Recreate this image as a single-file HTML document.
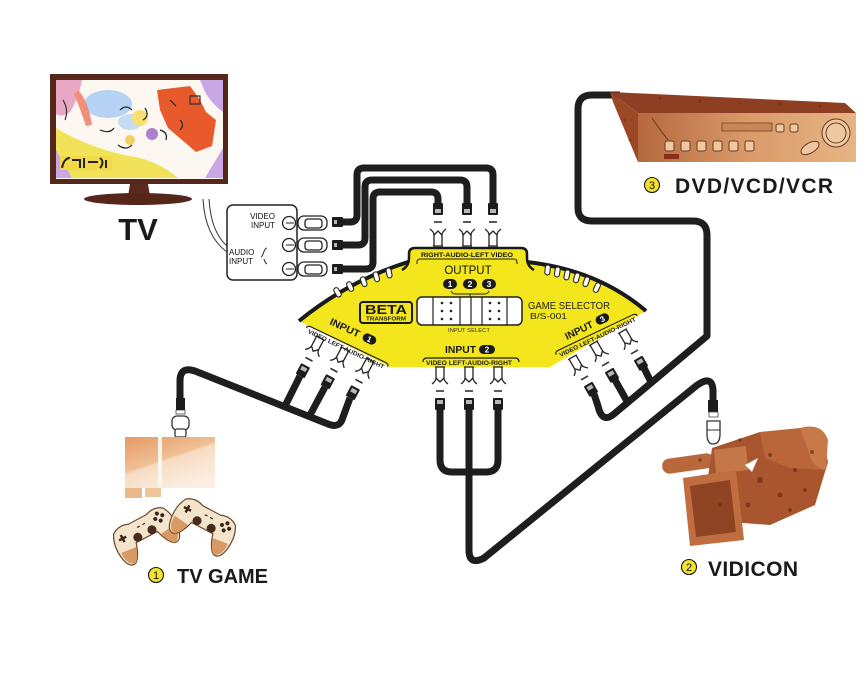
<!DOCTYPE html>
<html><head><meta charset="utf-8"><style>
html,body{margin:0;padding:0;background:#fff;}
svg{display:block;}
text{font-family:"Liberation Sans",Arial,sans-serif;}
.c{fill:none;stroke:#1e1e1e;stroke-width:7;stroke-linejoin:round;stroke-linecap:butt;}
</style></head><body>
<svg width="866" height="680" viewBox="0 0 866 680" xmlns="http://www.w3.org/2000/svg">
<defs>
<g id="st">
  <path d="M-4,-9 V2 Q-4,5 -8,8 M4,-9 V2 Q4,5 8,8 M-4,2 L0,6 L4,2 M-5,-9 H5" fill="none" stroke="#222" stroke-width="1.3"/>
  <line x1="-4" y1="15" x2="4" y2="15" stroke="#333" stroke-width="1.6"/>
  <rect x="-5" y="22" width="10" height="12" rx="1" fill="#1c1c1c"/>
  <rect x="-3" y="24" width="6" height="4" fill="#b8b8b8"/>
</g>
<linearGradient id="dvdf" x1="0" y1="0" x2="1" y2="0">
  <stop offset="0" stop-color="#b5683e"/><stop offset="0.5" stop-color="#d99a68"/><stop offset="1" stop-color="#e6b585"/>
</linearGradient>
<linearGradient id="cons" x1="0" y1="0" x2="0.6" y2="1">
  <stop offset="0" stop-color="#e59a66"/><stop offset="0.5" stop-color="#efbf94"/><stop offset="0.55" stop-color="#f6dcc0"/><stop offset="1" stop-color="#fbeee0"/>
</linearGradient>
<g id="pad">
  <path d="M-28,-10 Q-20,-16 -10,-12 H10 Q20,-16 28,-10 Q34,0 32,14 Q30,28 22,26 Q16,22 12,8 H-12 Q-16,22 -22,26 Q-30,28 -32,14 Q-34,0 -28,-10 Z" fill="#f4e4cc" stroke="#6b4a30" stroke-width="1.2"/>
  <path d="M-30,10 Q-31,24 -22,26 Q-17,22 -14,12 Z M30,10 Q31,24 22,26 Q17,22 14,12 Z" fill="#d89a62"/>
  <path d="M-22,-6 v8 M-26,-2 h8" stroke="#3a2418" stroke-width="2.5"/>
  <circle cx="20" cy="-8" r="2" fill="#3a2418"/><circle cx="20" cy="0" r="2" fill="#3a2418"/>
  <circle cx="16" cy="-4" r="2" fill="#3a2418"/><circle cx="24" cy="-4" r="2" fill="#3a2418"/>
  <circle cx="-8" cy="4" r="4.5" fill="#4a2a1a"/><circle cx="8" cy="4" r="4.5" fill="#4a2a1a"/>
  <path d="M-4,-5 h3 M2,-5 h3" stroke="#3a2418" stroke-width="1.2"/>
</g>
</defs>

<rect width="866" height="680" fill="#fff"/>

<!-- ============ TV ============ -->
<rect x="50" y="74" width="178" height="110" fill="#55261a"/>
<rect x="56" y="80" width="167" height="99" fill="#fcf7f0"/>
<path d="M56,80 H82 Q78,100 70,112 Q62,118 56,114 Z" fill="#e9a7c4"/>
<ellipse cx="108" cy="104" rx="24" ry="14" fill="#b6d2f2"/>
<ellipse cx="130" cy="122" rx="12" ry="8" fill="#c4dcf4"/>
<path d="M78,90 Q88,100 92,125 L86,126 Q80,108 74,94 Z" fill="#f0907a"/>
<path d="M157,90 L190,86 L200,100 L206,112 L216,120 L212,146 L196,152 L182,140 L168,128 L160,110 Z" fill="#e85a2b"/>
<path d="M200,80 H223 V112 Q212,104 205,92 Z" fill="#c9a6e4"/>
<path d="M205,178 L223,148 V178 Z" fill="#c9a6e4"/>
<path d="M56,148 L72,178 H56 Z" fill="#c9a6e4"/>
<path d="M56,128 Q92,150 140,158 Q162,164 178,178 H72 L56,150 Z" fill="#f2e25a"/>
<rect x="60" y="156" width="52" height="14" fill="#f3d84a"/>
<path d="M62,168 Q64,158 70,158 M72,160 h8 v8 M84,158 v10 M88,162 h10 M100,158 q5,4 0,10 M106,160 v8" stroke="#222" stroke-width="2" fill="none"/>
<circle cx="140" cy="118" r="8" fill="#f5e070"/>
<circle cx="152" cy="134" r="6" fill="#b080d0"/>
<circle cx="130" cy="140" r="5" fill="#f5d060"/>
<path d="M120,110 q6,-6 12,0 M145,108 q5,8 -2,12 M160,130 q8,2 6,10 M100,130 q10,4 14,-2 M170,100 l6,6 M180,120 q5,5 0,10 M118,145 q8,6 14,0" stroke="#222" stroke-width="1.2" fill="none"/>
<path d="M63,100 q6,10 2,20 M190,96 h10 v8 h-10 z" stroke="#333" stroke-width="1.2" fill="none"/>
<path d="M130,184 h18 l2,12 h-22 z" fill="#5a2a1c"/>
<ellipse cx="138" cy="199" rx="54" ry="6" fill="#55261a"/>
<text x="138" y="240" font-size="31" font-weight="bold" text-anchor="middle" fill="#1a1a1a">TV</text>

<!-- TV input panel -->
<path d="M203,199 Q205,236 227,252 M209,199 Q211,232 227,246" stroke="#333" stroke-width="1" fill="none"/>
<rect x="227" y="205" width="70" height="75" rx="6" fill="#fff" stroke="#222" stroke-width="1.5"/>
<text x="275" y="219" font-size="8" text-anchor="end" fill="#111">VIDEO</text>
<text x="275" y="228" font-size="8" text-anchor="end" fill="#111">INPUT</text>
<text x="229" y="255" font-size="8" fill="#111">AUDIO</text>
<text x="229" y="264" font-size="8" fill="#111">INPUT</text>
<path d="M263,254 q2,-6 4,-6 M263,254 q-1,3 -2,3 M264,259 q1,4 3,5" stroke="#222" stroke-width="1" fill="none"/>
<g fill="#fff" stroke="#222" stroke-width="1.3">
  <rect x="298" y="216" width="29" height="14" rx="6"/><rect x="305" y="219" width="17" height="9" rx="3"/><circle cx="289" cy="223" r="6.5"/>
  <rect x="298" y="238" width="29" height="14" rx="6"/><rect x="305" y="241" width="17" height="9" rx="3"/><circle cx="289" cy="245" r="6.5"/>
  <rect x="298" y="262" width="29" height="14" rx="6"/><rect x="305" y="265" width="17" height="9" rx="3"/><circle cx="289" cy="269" r="6.5"/>
</g>
<path d="M286,223 h8 M286,245 h8 M286,269 h8" stroke="#222" stroke-width="1"/>

<!-- ============ Cables ============ -->
<path class="c" d="M343,222 H350 Q357,222 357,215 V175 Q357,168 364,168 H486 Q493,168 493,175 V203"/>
<path class="c" d="M343,245 H358 Q365,245 365,238 V187 Q365,180 372,180 H460 Q467,180 467,187 V203"/>
<path class="c" d="M343,269 H366 Q373,269 373,262 V199 Q373,192 380,192 H431 Q438,192 438,199 V203"/>
<g fill="#1c1c1c"><rect x="332" y="217" width="11" height="10" rx="1"/><rect x="332" y="240" width="11" height="10" rx="1"/><rect x="332" y="264" width="11" height="10" rx="1"/></g>
<g fill="#b8b8b8"><rect x="334" y="220" width="3" height="4"/><rect x="334" y="243" width="3" height="4"/><rect x="334" y="267" width="3" height="4"/></g>

<!-- DVD cable + input 3 -->
<path class="c" d="M620,95 H592 Q578,95 578,109 V208 Q578,221 592,221 H693 Q707,221 707,235 V336 L614,414 Q602,424 598,406 L594,394"/>
<path class="c" d="M615,380 L628,403"/>
<path class="c" d="M644,368 L652,384"/>

<!-- Input 1 -->
<path class="c" d="M180,399 V381 Q180,366 195,371 L328,424 Q340,429 343,417 L350,398"/>
<path class="c" d="M300,376 L285,406"/>
<path class="c" d="M325,387 L309,417"/>

<!-- Input 2 / camera -->
<path class="c" d="M440,410 V460 Q440,472 452,472 H486 Q498,472 498,460 V410"/>
<path class="c" d="M469,410 V550 Q469,566 484,558 L696,386 Q712,374 713,390 V401"/>

<!-- ============ Yellow selector ============ -->
<path d="M299,321 Q348,281 408,262 L408,252 Q408,247 414,247 H522 Q528,247 528,252 L528,262 Q598,270 646,311 L550,367 H390 Z" fill="#f4e61c"/>
<path d="M299,321 Q348,281 408,262" fill="none" stroke="#1a1a1a" stroke-width="4"/>
<path d="M527,262 Q598,270 646,311" fill="none" stroke="#1a1a1a" stroke-width="4"/>
<path d="M402,270 Q409,266 409,258 V254 Q409,248 415,248 H521 Q527,248 527,254 V258 Q527,266 534,270" fill="none" stroke="#1a1a1a" stroke-width="2.5"/>
<path d="M417,264 V262 Q417,259 421,259 H513 Q517,259 517,262 V264" fill="none" stroke="#1a1a1a" stroke-width="1"/>
<text x="467" y="257" font-size="6.3" font-weight="bold" text-anchor="middle" fill="#111" textLength="92" lengthAdjust="spacingAndGlyphs">RIGHT-AUDIO-LEFT VIDEO</text>
<text x="468" y="274" font-size="11.5" text-anchor="middle" fill="#111">OUTPUT</text>

<g fill="#fff" stroke="#222" stroke-width="1.1">
  <rect x="-2.5" y="0" width="5" height="10" rx="2.5" transform="translate(335,288) rotate(-30)"/>
  <rect x="-2.5" y="0" width="5" height="10" rx="2.5" transform="translate(348,282) rotate(-25)"/>
  <rect x="-2.5" y="0" width="5" height="10" rx="2.5" transform="translate(362,277) rotate(-20)"/>
  <rect x="-2.5" y="0" width="5" height="10" rx="2.5" transform="translate(375,272) rotate(-16)"/>
  <rect x="-2.5" y="0" width="5" height="10" rx="2.5" transform="translate(388,268) rotate(-12)"/>
  <rect x="-2.5" y="0" width="5" height="10" rx="2.5" transform="translate(548,265) rotate(5)"/>
  <rect x="-2.5" y="0" width="5" height="10" rx="2.5" transform="translate(558,267) rotate(8)"/>
  <rect x="-2.5" y="0" width="5" height="10" rx="2.5" transform="translate(568,270) rotate(12)"/>
  <rect x="-2.5" y="0" width="5" height="10" rx="2.5" transform="translate(578,273) rotate(16)"/>
  <rect x="-2.5" y="0" width="5" height="10" rx="2.5" transform="translate(588,277) rotate(20)"/>
  <rect x="-2.5" y="0" width="5" height="10" rx="2.5" transform="translate(599,283) rotate(25)"/>
</g>

<g fill="#1a1a1a"><rect x="443" y="279" width="14" height="10" rx="5"/><rect x="463" y="279" width="14" height="10" rx="5"/><rect x="482" y="279" width="14" height="10" rx="5"/></g>
<g font-size="8.5" font-weight="bold" fill="#fff" text-anchor="middle"><text x="450" y="287">1</text><text x="470" y="287">2</text><text x="489" y="287">3</text></g>
<path d="M451,291 Q452,294 456,294 H484 Q488,294 489,291 M470,294 v3" stroke="#222" stroke-width="1" fill="none"/>

<rect x="417" y="297" width="105" height="28" rx="5" fill="#fff" stroke="#222" stroke-width="1.5"/>
<g stroke="#222" stroke-width="1.2"><line x1="433" y1="297" x2="433" y2="325"/><line x1="460" y1="297" x2="460" y2="325"/><line x1="471" y1="297" x2="471" y2="325"/><line x1="482" y1="297" x2="482" y2="325"/><line x1="507" y1="297" x2="507" y2="325"/></g>
<g fill="#222">
  <circle cx="442" cy="303" r="1.3"/><circle cx="451" cy="303" r="1.3"/><circle cx="442" cy="311" r="1.3"/><circle cx="451" cy="311" r="1.3"/><circle cx="442" cy="319" r="1.3"/><circle cx="451" cy="319" r="1.3"/>
  <circle cx="490" cy="303" r="1.3"/><circle cx="499" cy="303" r="1.3"/><circle cx="490" cy="311" r="1.3"/><circle cx="499" cy="311" r="1.3"/><circle cx="490" cy="319" r="1.3"/><circle cx="499" cy="319" r="1.3"/>
</g>
<text x="469" y="332" font-size="5" text-anchor="middle" fill="#333" textLength="42" lengthAdjust="spacingAndGlyphs">INPUT SELECT</text>

<rect x="360" y="302" width="52" height="21" rx="3" fill="#f4e61c" stroke="#1a1a1a" stroke-width="2"/>
<text x="386" y="314" font-family="Liberation Serif,serif" font-size="13" font-weight="bold" text-anchor="middle" fill="#1a1a1a" textLength="42" lengthAdjust="spacingAndGlyphs">BETA</text>
<text x="386" y="320.5" font-size="5.8" font-weight="bold" text-anchor="middle" fill="#1a1a1a" textLength="40" lengthAdjust="spacingAndGlyphs">TRANSFORM</text>

<text x="528" y="309" font-size="10" fill="#222" textLength="82" lengthAdjust="spacingAndGlyphs">GAME SELECTOR</text>
<text x="530" y="319" font-size="8.5" fill="#222" textLength="37" lengthAdjust="spacingAndGlyphs">B/S-001</text>

<text x="445" y="353" font-size="10" font-weight="bold" fill="#1a1a1a" textLength="31" lengthAdjust="spacingAndGlyphs">INPUT</text>
<rect x="479" y="345" width="16" height="9" rx="4.5" fill="#1a1a1a"/>
<text x="487" y="352.5" font-size="8" font-weight="bold" fill="#fff" text-anchor="middle">2</text>
<path d="M423,362 Q423,358 427,358 H515 Q519,358 519,362" fill="none" stroke="#1a1a1a" stroke-width="1.2"/>
<text x="469" y="365" font-size="6" font-weight="bold" text-anchor="middle" fill="#1a1a1a" textLength="86" lengthAdjust="spacingAndGlyphs">VIDEO LEFT-AUDIO-RIGHT</text>

<g transform="translate(329,324) rotate(25)">
  <text x="0" y="0" font-size="10" font-weight="bold" fill="#1a1a1a" textLength="32" lengthAdjust="spacingAndGlyphs">INPUT</text>
  <rect x="36" y="-8" width="14" height="9" rx="4.5" fill="#1a1a1a"/>
  <text x="43" y="-0.5" font-size="8" font-weight="bold" fill="#fff" text-anchor="middle">1</text>
</g>
<g transform="translate(309,327) rotate(25.5)">
  <path d="M-2,2 Q-2,-1 2,-1 H84 Q88,-1 88,2" fill="none" stroke="#1a1a1a" stroke-width="1.1"/>
  <text x="43" y="6" font-size="6" font-weight="bold" text-anchor="middle" fill="#1a1a1a" textLength="84" lengthAdjust="spacingAndGlyphs">VIDEO LEFT-AUDIO-RIGHT</text>
</g>

<g transform="translate(567,340) rotate(-26)">
  <text x="0" y="0" font-size="10" font-weight="bold" fill="#1a1a1a" textLength="30" lengthAdjust="spacingAndGlyphs">INPUT</text>
  <rect x="34" y="-8" width="14" height="9" rx="4.5" fill="#1a1a1a"/>
  <text x="41" y="-0.5" font-size="8" font-weight="bold" fill="#fff" text-anchor="middle">3</text>
</g>
<g transform="translate(557,352) rotate(-25.5)">
  <path d="M-2,2 Q-2,-1 2,-1 H84 Q88,-1 88,2" fill="none" stroke="#1a1a1a" stroke-width="1.1"/>
  <text x="43" y="6" font-size="6" font-weight="bold" text-anchor="middle" fill="#1a1a1a" textLength="84" lengthAdjust="spacingAndGlyphs">VIDEO LEFT-AUDIO-RIGHT</text>
</g>

<use href="#st" transform="translate(438,237) rotate(180)"/>
<use href="#st" transform="translate(467,237) rotate(180)"/>
<use href="#st" transform="translate(493,237) rotate(180)"/>
<use href="#st" transform="translate(440,376)"/>
<use href="#st" transform="translate(469,376)"/>
<use href="#st" transform="translate(498,376)"/>
<use href="#st" transform="translate(316,346) rotate(28)"/>
<use href="#st" transform="translate(341,357) rotate(28)"/>
<use href="#st" transform="translate(366,368) rotate(28)"/>
<use href="#st" transform="translate(577,365) rotate(-30)"/>
<use href="#st" transform="translate(598,351) rotate(-30)"/>
<use href="#st" transform="translate(627,339) rotate(-30)"/>

<!-- ============ DVD ============ -->
<polygon points="610,92 845,103 856,113 638,113" fill="#8e3e22"/>
<polygon points="610,92 638,113 638,162 613,102" fill="#9c4826"/>
<rect x="638" y="113" width="218" height="49" fill="url(#dvdf)"/>
<g fill="#6e2a14" opacity="0.5">
  <circle cx="660" cy="98" r="1.5"/><circle cx="700" cy="101" r="1.5"/><circle cx="740" cy="103" r="1.5"/><circle cx="780" cy="104" r="1.5"/><circle cx="820" cy="106" r="1.5"/>
  <circle cx="625" cy="120" r="1.5"/><circle cx="630" cy="140" r="1.5"/>
</g>
<path d="M652,118 Q660,130 668,140" stroke="#6a3a20" stroke-width="1" fill="none"/>
<rect x="722" y="123" width="50" height="8" fill="#c88758" stroke="#7a4020" stroke-width="0.8"/>
<g fill="#eec9a0" stroke="#6a3a20" stroke-width="1">
  <rect x="665" y="141" width="9" height="10" rx="2"/><rect x="681" y="141" width="9" height="10" rx="2"/><rect x="697" y="141" width="9" height="10" rx="2"/>
  <rect x="713" y="141" width="9" height="10" rx="2"/><rect x="729" y="141" width="9" height="10" rx="2"/><rect x="745" y="141" width="9" height="10" rx="2"/>
  <rect x="776" y="124" width="8" height="8" rx="2"/><rect x="790" y="124" width="8" height="8" rx="2"/>
  <circle cx="836" cy="133" r="14"/><circle cx="836" cy="133" r="10"/>
  <ellipse cx="810" cy="148" rx="10" ry="5" transform="rotate(-30 810 148)"/>
</g>
<rect x="664" y="154" width="15" height="5" fill="#8a3018"/>
<circle cx="652" cy="185" r="7.5" fill="#f3e12a" stroke="#1a1a1a" stroke-width="1.1"/>
<text x="652" y="189" font-size="11" text-anchor="middle" fill="#111">3</text>
<text x="675" y="193" font-size="21" fill="#1a1a1a" textLength="158" lengthAdjust="spacing" style="font-weight:600">DVD/VCD/VCR</text>

<!-- ============ Console ============ -->
<rect x="176" y="410" width="9" height="4" fill="#fff" stroke="#444" stroke-width="0.8"/>
<rect x="172" y="416" width="17" height="14" rx="5" fill="#fff" stroke="#333" stroke-width="1.3"/>
<rect x="175" y="429" width="11" height="8" rx="2" fill="#fff" stroke="#333" stroke-width="1.3"/>
<rect x="176" y="398" width="9" height="12" fill="#1c1c1c"/>
<rect x="125" y="437" width="90" height="51" fill="url(#cons)"/>
<rect x="158" y="437" width="4" height="51" fill="#fff5ea"/>
<rect x="125" y="488" width="17" height="10" fill="#e8b888"/>
<rect x="145" y="488" width="16" height="9" fill="#eec49a"/>
<use href="#pad" transform="translate(143,530) rotate(-28)"/>
<use href="#pad" transform="translate(206,521) rotate(28)"/>
<circle cx="156" cy="575" r="7.5" fill="#f3e12a" stroke="#1a1a1a" stroke-width="1.1"/>
<text x="156" y="579" font-size="11" text-anchor="middle" fill="#111">1</text>
<text x="177" y="583" font-size="20" fill="#1a1a1a" textLength="91" lengthAdjust="spacing" style="font-weight:600">TV GAME</text>

<!-- ============ Camera ============ -->
<rect x="708" y="400" width="10" height="12" fill="#1c1c1c"/>
<rect x="709" y="412" width="9" height="5" fill="#fff" stroke="#444" stroke-width="0.8"/>
<path d="M707,421 H720 V434 Q720,444 713,444 Q707,444 707,434 Z" fill="#fff" stroke="#333" stroke-width="1.3"/>
<path d="M707,430 H720" stroke="#333" stroke-width="1"/>
<rect x="662" y="456" width="52" height="15" rx="7" fill="#b9683c" transform="rotate(-8 688 463)"/>
<path d="M712,448 L760,432 L800,430 L822,438 L828,462 L815,505 L770,525 L730,522 L706,492 Z" fill="#a9552e"/>
<path d="M760,432 L800,428 L826,440 L826,470 L790,468 L765,458 Z" fill="#b9663a"/>
<path d="M800,428 Q822,422 828,440 L826,470 Q812,468 808,450 Z" fill="#c77a48"/>
<path d="M714,450 L746,446 L748,470 L716,474 Z" fill="#c4784a"/>
<path d="M683,478 L736,470 L744,540 L690,546 Z" fill="#c06e40"/>
<path d="M690,486 L730,480 L736,532 L696,537 Z" fill="#8e4422"/>
<g fill="#6a2e16" opacity="0.7">
  <circle cx="760" cy="480" r="3"/><circle cx="780" cy="495" r="2.5"/><circle cx="795" cy="470" r="2"/><circle cx="748" cy="505" r="2.5"/>
  <circle cx="805" cy="490" r="2"/><circle cx="770" cy="455" r="2"/><circle cx="812" cy="452" r="2"/><circle cx="700" cy="460" r="1.8"/>
  <circle cx="720" cy="505" r="2"/><circle cx="790" cy="510" r="2"/><circle cx="740" cy="440" r="1.8"/>
</g>
<path d="M745,465 L758,458 L752,472 Z" fill="#fff"/>
<circle cx="689" cy="567" r="7.5" fill="#f3e12a" stroke="#1a1a1a" stroke-width="1.1"/>
<text x="689" y="571" font-size="11" text-anchor="middle" fill="#111">2</text>
<text x="708" y="576" font-size="21" fill="#1a1a1a" textLength="90" lengthAdjust="spacing" style="font-weight:600">VIDICON</text>
</svg>
</body></html>
